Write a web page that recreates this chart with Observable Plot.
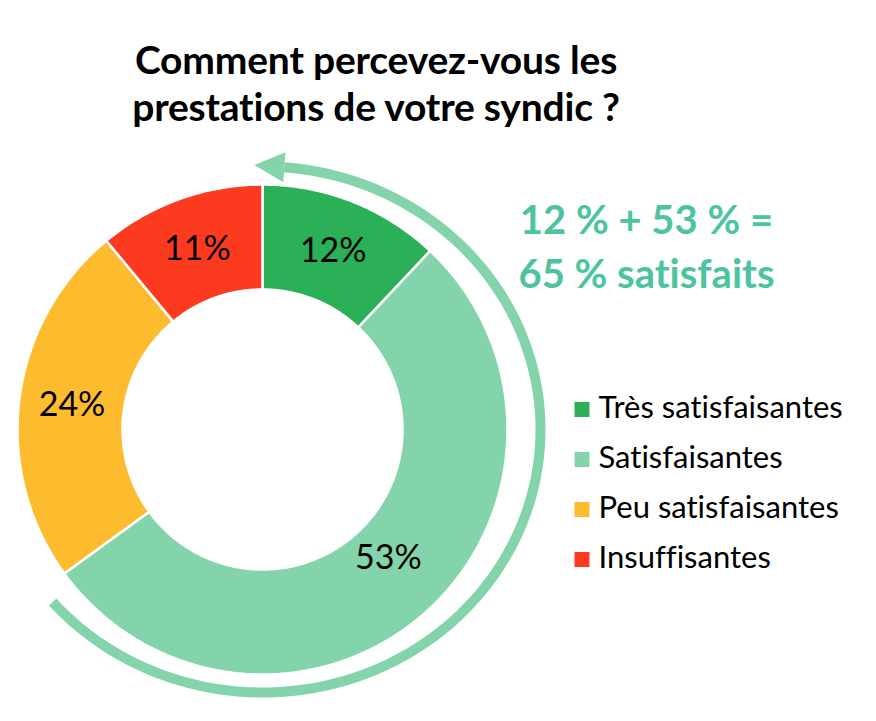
<!DOCTYPE html>
<html><head><meta charset="utf-8">
<script src="https://cdn.jsdelivr.net/npm/d3@7"></script>
<script src="https://cdn.jsdelivr.net/npm/@observablehq/plot@0.6"></script>
<style>
body{margin:0;background:#fff;font-family:Lato,sans-serif;font-variant-ligatures:none;}
#title{width:752px;height:140px;box-sizing:border-box;padding-top:36px;text-align:center;font-weight:700;font-size:39px;line-height:47px;color:#000;letter-spacing:-0.2px;}
#chart svg{display:block;font-variant-ligatures:none;}
</style></head><body>
<div id="title">Comment percevez-vous les<br>prestations de votre syndic ?</div>
<div id="chart"></div>
<script>
// ---- data ----
const categories = ["Très satisfaisantes", "Satisfaisantes", "Peu satisfaisantes", "Insuffisantes"];
const values = [12, 53, 24, 11];
const valueLabels = ["12%", "53%", "24%", "11%"];
const colors = ["#2bb057", "#83d3ab", "#fdbb2e", "#fc3a1f"];
const annotationLines = ["12 % + 53 % =", "65 % satisfaits"];
const satisfied = ["Très satisfaisantes", "Satisfaisantes"];

// ---- layout ----
const W = 876, H = 581;
const cx = 262, cy = 289, rOuter = 245, rInner = 140, rLabel = 192;
const arcCx = 262, arcCy = 289, arcRx = 278, arcRy = 263;
const toRad = d => d * Math.PI / 180;
const total = d3.sum(values);

// cumulative angles (degrees clockwise from top)
let acc = 0;
const slices = categories.map((c, i) => {
  const a0 = acc / total * 360; acc += values[i]; const a1 = acc / total * 360;
  return {cat: c, value: values[i], label: valueLabels[i], color: colors[i], a0, a1};
});

function ringPoints(s) {
  const pts = [];
  const n = Math.max(4, Math.ceil(s.a1 - s.a0));
  for (let k = 0; k <= n; k++) {
    const a = toRad(s.a0 + (s.a1 - s.a0) * k / n);
    pts.push({x: cx + rOuter * Math.sin(a), y: cy - rOuter * Math.cos(a)});
  }
  for (let k = n; k >= 0; k--) {
    const a = toRad(s.a0 + (s.a1 - s.a0) * k / n);
    pts.push({x: cx + rInner * Math.sin(a), y: cy - rInner * Math.cos(a)});
  }
  pts.push(pts[0]);
  return pts;
}

const labelFont = 34;
const labelPts = slices.map(s => {
  // the large slice's label sits a little inward and ahead of its mid-angle
  const big = s.value > 50;
  const a = toRad((s.a0 + s.a1) / 2 - (big ? 3 : 0));
  const r = big ? rLabel - 12 : rLabel;
  return {x: cx + r * Math.sin(a), y: cy - r * Math.cos(a), label: s.label};
});

// arc around the "satisfied" part of the ring
const arcStart = 4.5, arcEnd = 229; // degrees
const arcPts = d3.range(0, 201).map(k => {
  const a = toRad(arcStart + (arcEnd - arcStart) * k / 200);
  return {x: arcCx + arcRx * Math.sin(a), y: arcCy - arcRy * Math.cos(a)};
});
const e = arcPts[0];
const aE = toRad(arcStart);
let tx = -arcRx * Math.cos(aE), ty = -arcRy * Math.sin(aE);
const tl = Math.hypot(tx, ty); tx /= tl; ty /= tl;
const nx = -ty, ny = tx;
const headLen = 30, headHalf = 15;
const headPts = [
  {x: e.x + tx * headLen, y: e.y + ty * headLen},
  {x: e.x + nx * headHalf, y: e.y + ny * headHalf},
  {x: e.x - nx * headHalf, y: e.y - ny * headHalf},
  {x: e.x + tx * headLen, y: e.y + ty * headLen}
];

const legendFont = 31;
const legendX = 581.5, legendY0 = 269, legendStep = 50;
const legend = slices.map((s, i) => ({cat: s.cat, color: s.color, y: legendY0 + i * legendStep, ty: legendY0 + i * legendStep + 8 - 0.32 * legendFont}));

const annFont = 40;
const ann = annotationLines.map((t, i) => ({t, y: 93 + i * 54 - 0.32 * annFont}));

const marks = [];
slices.forEach(s => {
  marks.push(Plot.line(ringPoints(s), {x: "x", y: "y", fill: s.color, stroke: "#fff", strokeWidth: 2.5, strokeLinejoin: "miter", curve: "linear"}));
});
marks.push(Plot.line(arcPts, {x: "x", y: "y", stroke: "#83d3ab", strokeWidth: 10, strokeLinecap: "butt", curve: "linear"}));
marks.push(Plot.line(headPts, {x: "x", y: "y", fill: "#83d3ab", stroke: "none", curve: "linear"}));
marks.push(Plot.text(labelPts, {x: "x", y: "y", text: "label", fontSize: labelFont, fill: "#000", textAnchor: "middle", lineAnchor: "middle", fontFamily: "Lato"}));
marks.push(Plot.text(ann, {x: 646, y: "y", text: "t", fontSize: annFont, fontWeight: 700, fill: "#4dc4a0", textAnchor: "middle", lineAnchor: "middle", fontFamily: "Lato"}));
marks.push(Plot.dot(legend, {x: legendX, y: "y", symbol: "square", r: Math.sqrt(225 / Math.PI), fill: "color", stroke: "none"}));
marks.push(Plot.text(legend, {x: 598, y: "ty", text: "cat", fontSize: legendFont, fill: "#000", textAnchor: "start", lineAnchor: "middle", fontFamily: "Lato"}));

const chart = Plot.plot({
  width: W, height: H,
  margin: 0,
  x: {domain: [0, W], range: [0, W], axis: null},
  y: {domain: [0, H], range: [0, H], axis: null},
  color: {type: "identity"},
  style: {background: "#fff", overflow: "visible"},
  marks
});
document.getElementById("chart").appendChild(chart);
</script>
</body></html>
